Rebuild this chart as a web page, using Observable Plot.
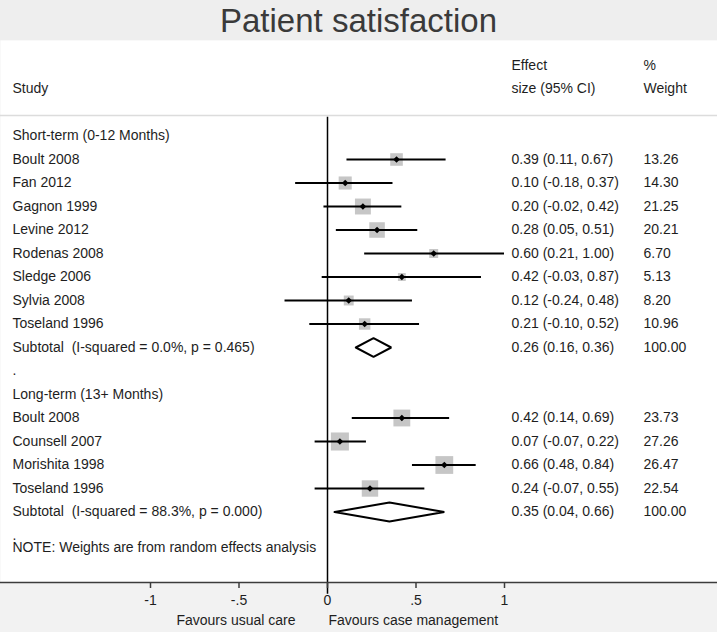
<!DOCTYPE html>
<html><head><meta charset="utf-8">
<script src="https://cdn.jsdelivr.net/npm/d3@7"></script>
<script src="https://cdn.jsdelivr.net/npm/@observablehq/plot@0.6"></script>
<style>
html,body{margin:0;padding:0;background:#f2f2f2;}
#title{height:40px;background:#eeeeee;font-family:"Liberation Sans",Arial,sans-serif;font-size:33px;color:#3a3a3a;text-align:center;line-height:42px;}
#chart svg{display:block;}
</style></head><body>
<div id="title">Patient satisfaction</div>
<div id="chart"></div>
<script>
// ---- data ----
const groupLabels = ["Short-term (0-12 Months)", "Long-term (13+ Months)"];

const shortStudies = ["Boult 2008","Fan 2012","Gagnon 1999","Levine 2012","Rodenas 2008","Sledge 2006","Sylvia 2008","Toseland 1996"];
const shortES = [0.39, 0.10, 0.20, 0.28, 0.60, 0.42, 0.12, 0.21];
const shortLo = [0.11, -0.18, -0.02, 0.05, 0.21, -0.03, -0.24, -0.10];
const shortHi = [0.67, 0.37, 0.42, 0.51, 1.00, 0.87, 0.48, 0.52];
const shortW  = [13.26, 14.30, 21.25, 20.21, 6.70, 5.13, 8.20, 10.96];

const longStudies = ["Boult 2008","Counsell 2007","Morishita 1998","Toseland 1996"];
const longES = [0.42, 0.07, 0.66, 0.24];
const longLo = [0.14, -0.07, 0.48, -0.07];
const longHi = [0.69, 0.22, 0.84, 0.55];
const longW  = [23.73, 27.26, 26.47, 22.54];

const subtotalLabels = ["Subtotal \u00a0(I-squared = 0.0%, p = 0.465)", "Subtotal \u00a0(I-squared = 88.3%, p = 0.000)"];
const subtotalES = [0.26, 0.35];
const subtotalLo = [0.16, 0.04];
const subtotalHi = [0.36, 0.66];
const subtotalW  = [100.00, 100.00];

const noteText = "NOTE: Weights are from random effects analysis";
const tickValues = [-1, -0.5, 0, 0.5, 1];
const tickLabels = ["-1", "-.5", "0", ".5", "1"];
const favourLabels = ["Favours usual care", "Favours case management"];

// ---- build rows ----
const f2 = v => v.toFixed(2);
const textRows = [], studyRows = [], diamondPts = [];
let row = 0;
const groups = [
  [shortStudies, shortES, shortLo, shortHi, shortW],
  [longStudies, longES, longLo, longHi, longW]
];
groups.forEach(([names, es, lo, hi, w], g) => {
  textRows.push({row: row++, label: groupLabels[g], effect: "", weight: ""});
  names.forEach((n, i) => {
    const d = {row, label: n, es: es[i], lo: lo[i], hi: hi[i], w: w[i],
      effect: `${f2(es[i])} (${f2(lo[i])}, ${f2(hi[i])})`, weight: f2(w[i])};
    textRows.push(d); studyRows.push(d); row++;
  });
  const s = {row, label: subtotalLabels[g],
    effect: `${f2(subtotalES[g])} (${f2(subtotalLo[g])}, ${f2(subtotalHi[g])})`, weight: f2(subtotalW[g])};
  textRows.push(s);
  const h = 0.4;
  [[subtotalLo[g], row], [subtotalES[g], row - h], [subtotalHi[g], row], [subtotalES[g], row + h], [subtotalLo[g], row]]
    .forEach(([x, y]) => diamondPts.push({g, x, y}));
  row++;
  textRows.push({row: row++, label: ".", effect: "", weight: ""});
});
const noteRow = row - 0.5;
const lastRow = row;

const font = "Liberation Sans, Arial, sans-serif";
const ink = "#1e1e1e";
const fs = 14;

const chart = Plot.plot({
  width: 717,
  height: 592,
  marginTop: 0, marginLeft: 0, marginRight: 0, marginBottom: 50,
  style: {fontFamily: font, fontSize: fs + "px", background: "transparent", color: ink},
  x: {domain: [-1, 1], range: [150, 504]},
  y: {domain: [0, 10], range: [95.5, 330.5], axis: null},
  r: {type: "sqrt", domain: [0, 100], range: [0, 19.5]},
  marks: [
    Plot.frame({fill: "white", stroke: null}),
    Plot.ruleY([-0.87], {stroke: "#dcdcdc", strokeWidth: 1.5}),
    Plot.ruleX([0], {y1: -0.8, y2: lastRow + 1.5, stroke: "black", strokeWidth: 1.5}),
    Plot.dot(studyRows, {x: "es", y: "row", r: "w", symbol: "square", fill: "#c6c6c6", stroke: null}),
    Plot.ruleY(studyRows, {y: "row", x1: "lo", x2: "hi", stroke: "black", strokeWidth: 2}),
    Plot.dot(studyRows, {x: "es", y: "row", r: 3, symbol: "diamond2", fill: "black", stroke: null}),
    Plot.line(diamondPts, {x: "x", y: "y", z: "g", stroke: "black", strokeWidth: 2, strokeLinejoin: "miter"}),
    // header
    Plot.text(["Study"], {frameAnchor: "left", y: [-2], dx: 12, textAnchor: "start", fill: ink, fontSize: fs}),
    Plot.text(["Effect", "size (95% CI)"], {frameAnchor: "left", y: [-3, -2], dx: 511, textAnchor: "start", fill: ink, fontSize: fs}),
    Plot.text(["%", "Weight"], {frameAnchor: "left", y: [-3, -2], dx: 643, textAnchor: "start", fill: ink, fontSize: fs}),
    // columns
    Plot.text(textRows, {frameAnchor: "left", y: "row", text: "label", dx: 12, textAnchor: "start", fill: ink, fontSize: fs}),
    Plot.text(textRows, {frameAnchor: "left", y: "row", text: "effect", dx: 511, textAnchor: "start", fill: ink, fontSize: fs}),
    Plot.text(textRows, {frameAnchor: "left", y: "row", text: "weight", dx: 643, textAnchor: "start", fill: ink, fontSize: fs}),
    Plot.text([noteText], {frameAnchor: "left", y: [noteRow], dx: 12, textAnchor: "start", fill: ink, fontSize: fs}),
    // axis
    Plot.frame({anchor: "bottom", stroke: "#3c3c3c", strokeWidth: 1.5}),
    Plot.axisX({ticks: tickValues, tickFormat: (d, i) => tickLabels[i], tickSize: 6, tickPadding: 7,
      stroke: "#3c3c3c", strokeWidth: 1.5, fill: ink, fontSize: fs, label: null}),
    Plot.text([favourLabels[0]], {x: [0], frameAnchor: "bottom", dy: 42, dx: -32, textAnchor: "end", fill: ink, fontSize: fs}),
    Plot.text([favourLabels[1]], {x: [0], frameAnchor: "bottom", dy: 42, dx: 1, textAnchor: "start", fill: ink, fontSize: fs})
  ]
});
document.getElementById("chart").appendChild(chart);
</script>
</body></html>
